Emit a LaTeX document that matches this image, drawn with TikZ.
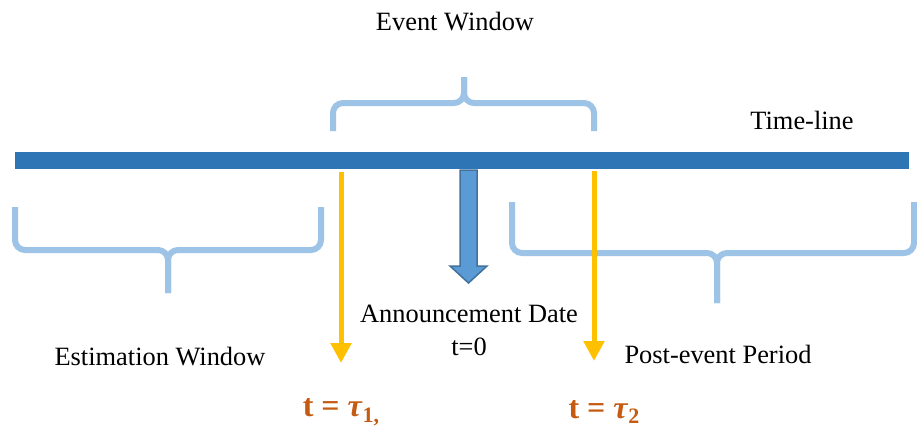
\documentclass[tikz,border=0pt]{standalone}
\usepackage{fontspec}
\setmainfont{Liberation Serif}
\usepackage{xcolor}
\usetikzlibrary{
	arrows.meta     % Per le punte di freccia (Triangle)
}
% Colori
\definecolor{lineablu}{HTML}{2E75B6}
\definecolor{graffablu}{HTML}{9DC3E6}
\definecolor{giallo}{HTML}{FFC000}
\definecolor{frecciablu}{HTML}{5B9BD5}
\definecolor{bordoblu}{HTML}{41719C}
\definecolor{arancio}{HTML}{C55A11}
% Pedice in grassetto
\newcommand{\pedice}[1]{\raisebox{-0.4ex}{\fontsize{11}{11}\selectfont #1}}

\begin{document}
\begin{tikzpicture}[x=0.5pt, y=-0.5pt,
		>={Triangle[width=10pt,length=10pt]},
		graffa/.style={graffablu, line width=3pt, rounded corners=5pt},
		freccia/.style={->, giallo, line width=2.5pt},
		testo/.style={font=\fontsize{13.2}{16.5}\selectfont},
		istante/.style={text=arancio, font=\fontsize{16}{18}\selectfont\bfseries}]
		% Cornice dell'immagine
		\useasboundingbox (0,0) rectangle (917,435);
		
		% --- Linea del tempo ---
		\coordinate (inizio) at (15,160.5);
		\coordinate (fine) at (909,160.5);
		\draw[lineablu, line width=8.5pt] (inizio) -- (fine);
		\node[testo] (timeline) at (802,120) {Time-line};
		
		% --- Graffe ---
		% Finestra dell'evento (sopra la linea)
		\draw[graffa] (333,131) -- (333,103) -- (464,103) -- (464,77);
		\draw[graffa] (594,131) -- (594,103) -- (464,103) -- (464,77);
		\node[testo] (evento) at (455,22) {Event Window};
		% Finestra di stima
		\draw[graffa] (15,207) -- (15,250) -- (168,250) -- (168,293);
		\draw[graffa] (321,207) -- (321,250) -- (168,250) -- (168,293);
		\node[testo] (stima) at (160,357) {Estimation Window};
		% Periodo successivo all'evento
		\draw[graffa] (512,202) -- (512,253) -- (717,253) -- (717,303);
		\draw[graffa] (914,202) -- (914,253) -- (717,253) -- (717,303);
		\node[testo] (post) at (718,354) {Post-event Period};
		
		% --- Data dell'annuncio ---
		\filldraw[fill=frecciablu, draw=bordoblu, line width=0.75pt]
		(460,170) -- (477,170) -- (477,266) -- (487,266) -- (468.5,283)
		-- (450,266) -- (460,266) -- cycle;
		\node[testo, align=center] (annuncio) at (469,330) {Announcement Date\\t=0};
		
		% --- Estremi della finestra ---
		\coordinate (t1su) at (341,172);
		\coordinate (t1giu) at (341,363);
		\coordinate (t2su) at (594,171);
		\coordinate (t2giu) at (594,361);
		\draw[freccia] (t1su) -- (t1giu);
		\draw[freccia] (t2su) -- (t2giu);
		\node[istante] (tuno) at (341,412) {t = \textit{τ}\pedice{1,}};
		\node[istante] (tdue) at (604,412) {t = \textit{τ}\pedice{2}};
	\end{tikzpicture}
\end{document}
